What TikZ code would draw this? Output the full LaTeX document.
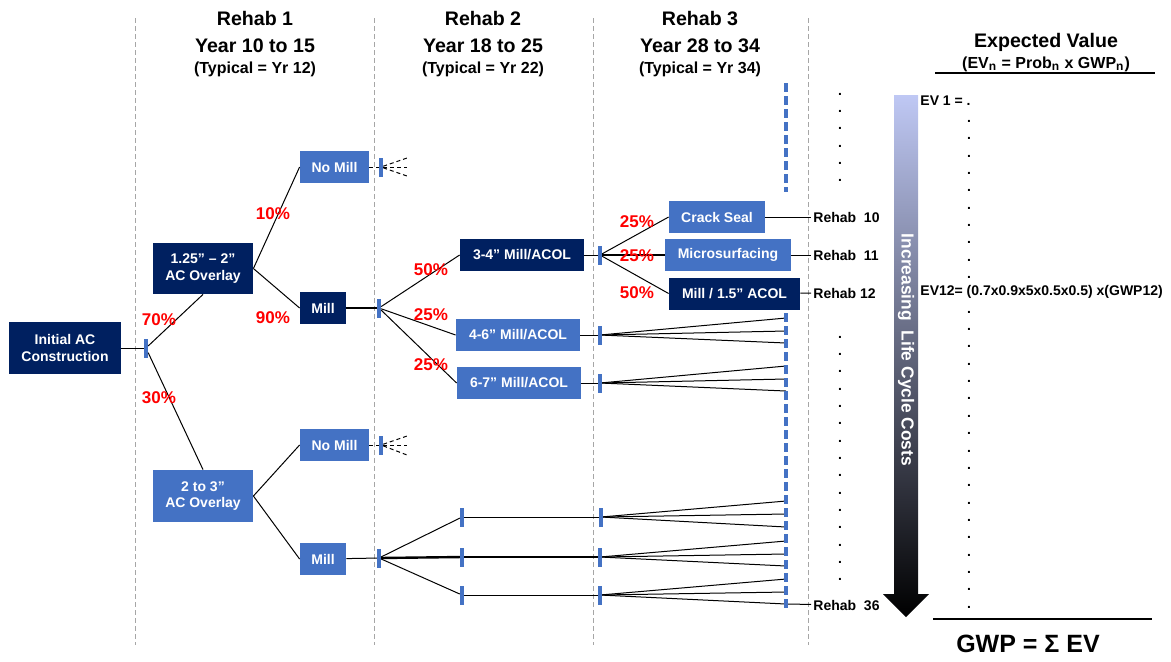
\documentclass[tikz,border=0pt]{standalone}
\usepackage{fontspec}
\setmainfont{Liberation Sans}
\usepackage{tikz}
\usepackage{xcolor}
\definecolor{navy}{HTML}{002060}
\definecolor{midblue}{HTML}{4472C4}
\definecolor{lavender}{HTML}{BFC8F4}
\definecolor{slate}{HTML}{767CA2}

\begin{document}
\begin{tikzpicture}[x=0.5pt,y=-0.5pt,
        dkbox/.style={fill=navy,text=white,font=\fontsize{7}{8.4}\selectfont\bfseries,align=center,inner sep=0pt},
        ltbox/.style={dkbox,fill=midblue},
        tmark/.style={fill=midblue,minimum width=1.8pt,minimum height=9.5pt,inner sep=0pt},
        pct/.style={text=red,font=\fontsize{8.5}{10}\selectfont\bfseries,inner sep=0pt},
        lbl/.style={font=\fontsize{7}{8.4}\selectfont\bfseries,inner sep=1pt,anchor=west},
        head/.style={font=\fontsize{9.8}{12}\selectfont\bfseries,anchor=base,inner sep=0pt},
        subhead/.style={font=\fontsize{8}{10}\selectfont\bfseries,anchor=base,inner sep=0pt},
        evtxt/.style={font=\fontsize{7}{8.4}\selectfont\bfseries,anchor=base west,inner sep=0pt},
        dot/.style={font=\fontsize{7}{8.4}\selectfont\bfseries,anchor=base,inner sep=0pt},
        link/.style={line width=0.5pt},
        fat/.style={line width=1.2pt},
        stub/.style={line width=0.5pt,dash pattern=on 2pt off 1.5pt},
        sep/.style={gray!70,line width=0.5pt,dash pattern=on 2.5pt off 1.5pt},
        bluedash/.style={midblue,line width=2pt,dash pattern=on 4.5pt off 2pt}]
        \useasboundingbox (0,0) rectangle (1171,661);

        % column separators and headings
        \foreach \x in {135,374,593,808}
            \draw[sep] (\x,18) -- (\x,645);
        \node[head] (h1) at (255,25) {Rehab 1};
        \node[head] (y1) at (255,52) {Year 10 to 15};
        \node[subhead] (s1) at (255,73) {(Typical = Yr 12)};
        \node[head] (h2) at (483,25) {Rehab 2};
        \node[head] (y2) at (483,52) {Year 18 to 25};
        \node[subhead] (s2) at (483,73) {(Typical = Yr 22)};
        \node[head] (h3) at (700,25) {Rehab 3};
        \node[head] (y3) at (700,52) {Year 28 to 34};
        \node[subhead] (s3) at (700,73) {(Typical = Yr 34)};

        % initial construction and rehab 1
        \node[dkbox,minimum width=56pt,minimum height=26pt] (init) at (65,348) {Initial AC\\Construction};
        \node[tmark] (t0) at (146,348) {};
        \node[dkbox,minimum width=50pt,minimum height=25.5pt] (ov1) at (203,268.5) {1.25” – 2”\\AC Overlay};
        \node[ltbox,minimum width=50pt,minimum height=26pt] (ov2) at (203,496) {2 to 3”\\AC Overlay};
        \draw[link] (init) -- (t0);
        \draw[link] (t0) -- (ov1.south);
        \draw[link] (t0) -- (ov2.north);
        \node[pct] (p70) at (159,320) {70\%};
        \node[pct] (p30) at (159,398) {30\%};

        % upper branch
        \node[ltbox,minimum width=34.5pt,minimum height=16pt] (nm1) at (334.5,167) {No Mill};
        \node[dkbox,minimum width=23pt,minimum height=16pt] (ml1) at (323,308) {Mill};
        \draw[link] (ov1.east) -- (nm1.west);
        \draw[link] (ov1.east) -- (ml1.west);
        \node[pct] (p10) at (273,214) {10\%};
        \node[pct] (p90) at (273,318) {90\%};
        \node[tmark] (tn1) at (381,167) {};
        \coordinate (n1a) at (407,158);
        \coordinate (n1b) at (407,167);
        \coordinate (n1c) at (407,176);
        \draw[stub] (nm1) -- (tn1);
        \foreach \c in {n1a,n1b,n1c}
            \draw[stub] (tn1) -- (\c);
        \node[tmark] (t1) at (379,308) {};
        \draw[fat] (ml1) -- (t1);

        % rehab 2 after mill
        \node[dkbox,minimum width=62pt,minimum height=16pt] (m34) at (522,255) {3-4” Mill/ACOL};
        \node[ltbox,minimum width=62pt,minimum height=16pt] (m46) at (518,335) {4-6” Mill/ACOL};
        \node[ltbox,minimum width=62pt,minimum height=16pt] (m67) at (519,383) {6-7” Mill/ACOL};
        \draw[link] (t1) -- (m34.west);
        \draw[link] (t1) -- (m46.west);
        \draw[link] (t1) -- (m67.west);
        \node[pct] (p50) at (431,270) {50\%};
        \node[pct] (p25a) at (431,315) {25\%};
        \node[pct] (p25b) at (431,365) {25\%};
        \node[tmark] (t2) at (600,255) {};
        \node[tmark] (t3) at (600,335) {};
        \node[tmark] (t4) at (600,383) {};
        \draw[link] (m34) -- (t2);
        \draw[link] (m46) -- (t3);
        \draw[link] (m67) -- (t4);

        % rehab 3 after 3-4" mill
        \node[ltbox,minimum width=48pt,minimum height=16pt] (crack) at (717,217) {Crack Seal};
        \node[ltbox,minimum width=63pt,minimum height=16pt] (micro) at (728,255) {Microsurfacing};
        \node[dkbox,minimum width=65.5pt,minimum height=16pt] (m15) at (734.5,293.5) {Mill / 1.5” ACOL};
        \draw[link] (t2) -- (crack.west);
        \draw[fat] (t2) -- (micro.west);
        \draw[link] (t2) -- (m15.west);
        \node[pct] (p25c) at (637,222) {25\%};
        \node[pct] (p25d) at (637,256) {25\%};
        \node[pct] (p50b) at (637,293) {50\%};
        \node[lbl] (r10) at (811,217) {Rehab~~10};
        \node[lbl] (r11) at (811,255) {Rehab~~11};
        \node[lbl] (r12) at (811,293) {Rehab 12};
        \draw[link] (crack) -- (r10);
        \draw[link] (micro) -- (r11);
        \draw[link] (m15) -- (r12);

        % fans to the end column
        \foreach \y [count=\i] in {318,331,343} {
            \coordinate (fa\i) at (786,\y);
            \draw[link] (t3) -- (fa\i);
        }
        \foreach \y [count=\i] in {366,379,391} {
            \coordinate (fb\i) at (786,\y);
            \draw[link] (t4) -- (fb\i);
        }

        % lower branch
        \node[ltbox,minimum width=34.5pt,minimum height=16pt] (nm2) at (334.5,445) {No Mill};
        \node[ltbox,minimum width=23pt,minimum height=16pt] (ml2) at (323,559) {Mill};
        \draw[link] (ov2.east) -- (nm2.west);
        \draw[link] (ov2.east) -- (ml2.west);
        \node[tmark] (tn2) at (381,445) {};
        \coordinate (n2a) at (407,436);
        \coordinate (n2b) at (407,445);
        \coordinate (n2c) at (407,455);
        \draw[stub] (nm2) -- (tn2);
        \foreach \c in {n2a,n2b,n2c}
            \draw[stub] (tn2) -- (\c);
        \node[tmark] (t5) at (379,558) {};
        \node[tmark] (ta) at (462,517) {};
        \node[tmark] (tb) at (462,557) {};
        \node[tmark] (tc) at (462,595) {};
        \node[tmark] (ta2) at (601,517) {};
        \node[tmark] (tb2) at (600,557) {};
        \node[tmark] (tc2) at (600,595) {};
        \draw[link] (ml2) -- (t5);
        \draw[link] (t5) -- (ta);
        \draw[fat] (t5) -- (tb);
        \draw[link] (t5) -- (tc);
        \draw[link] (ta) -- (ta2);
        \draw[fat] (tb) -- (tb2);
        \draw[link] (tc) -- (tc2);
        \foreach \y [count=\i] in {501,514,527} {
            \coordinate (fc\i) at (786,\y);
            \draw[link] (ta2) -- (fc\i);
        }
        \foreach \y [count=\i] in {541,554,566} {
            \coordinate (fd\i) at (786,\y);
            \draw[link] (tb2) -- (fd\i);
        }
        \foreach \y [count=\i] in {579,592,604} {
            \coordinate (fe\i) at (786,\y);
            \draw[link] (tc2) -- (fe\i);
        }
        \node[lbl] (r36) at (811,605) {Rehab~~36};
        \draw[link] (fe3) -- (r36);

        % end column
        \draw[bluedash] (786,83) -- (786,192);
        \draw[bluedash] (786,313) -- (786,608);
        \foreach \k in {0,...,5}
            \node[dot] (da\k) at (840,{95+17.35*\k}) {.};
        \foreach \k in {0,...,14}
            \node[dot] (db\k) at (840,{338+17.35*\k}) {.};

        % life cycle cost arrow
        \shade[top color=lavender,middle color=slate,bottom color=black]
            (894,95) -- (918,95) -- (918,594) -- (929,594) -- (906,617) -- (883,594) -- (894,594) -- cycle;
        \node[rotate=-90,text=white,font=\fontsize{8.7}{10}\selectfont\bfseries] (cost) at (906,350) {Increasing~~Life Cycle Costs};

        % expected value column
        \node[head] (evh) at (1046,47) {Expected Value};
        \node[subhead] (evs) at (1046,68) {(EV\textsubscript{n} = Prob\textsubscript{n} x GWP\textsubscript{n})};
        \draw[line width=1pt] (935,73) -- (1155,73);
        \node[evtxt] (ev1) at (920,105) {EV 1 = .};
        \foreach \k in {1,...,10}
            \node[dot] (dc\k) at (969,{105+17.35*\k}) {.};
        \node[evtxt] (ev12) at (920,{105+17.35*11}) {EV12= (0.7x0.9x5x0.5x0.5) x(GWP12)};
        \foreach \k in {12,...,29}
            \node[dot] (dc\k) at (969,{105+17.35*\k}) {.};
        \draw[line width=1pt] (933,619) -- (1152,619);
        \node[font=\fontsize{12.5}{15}\selectfont\bfseries,anchor=base] (gwp) at (1028,652) {GWP = Σ EV};
    \end{tikzpicture}
\end{document}
